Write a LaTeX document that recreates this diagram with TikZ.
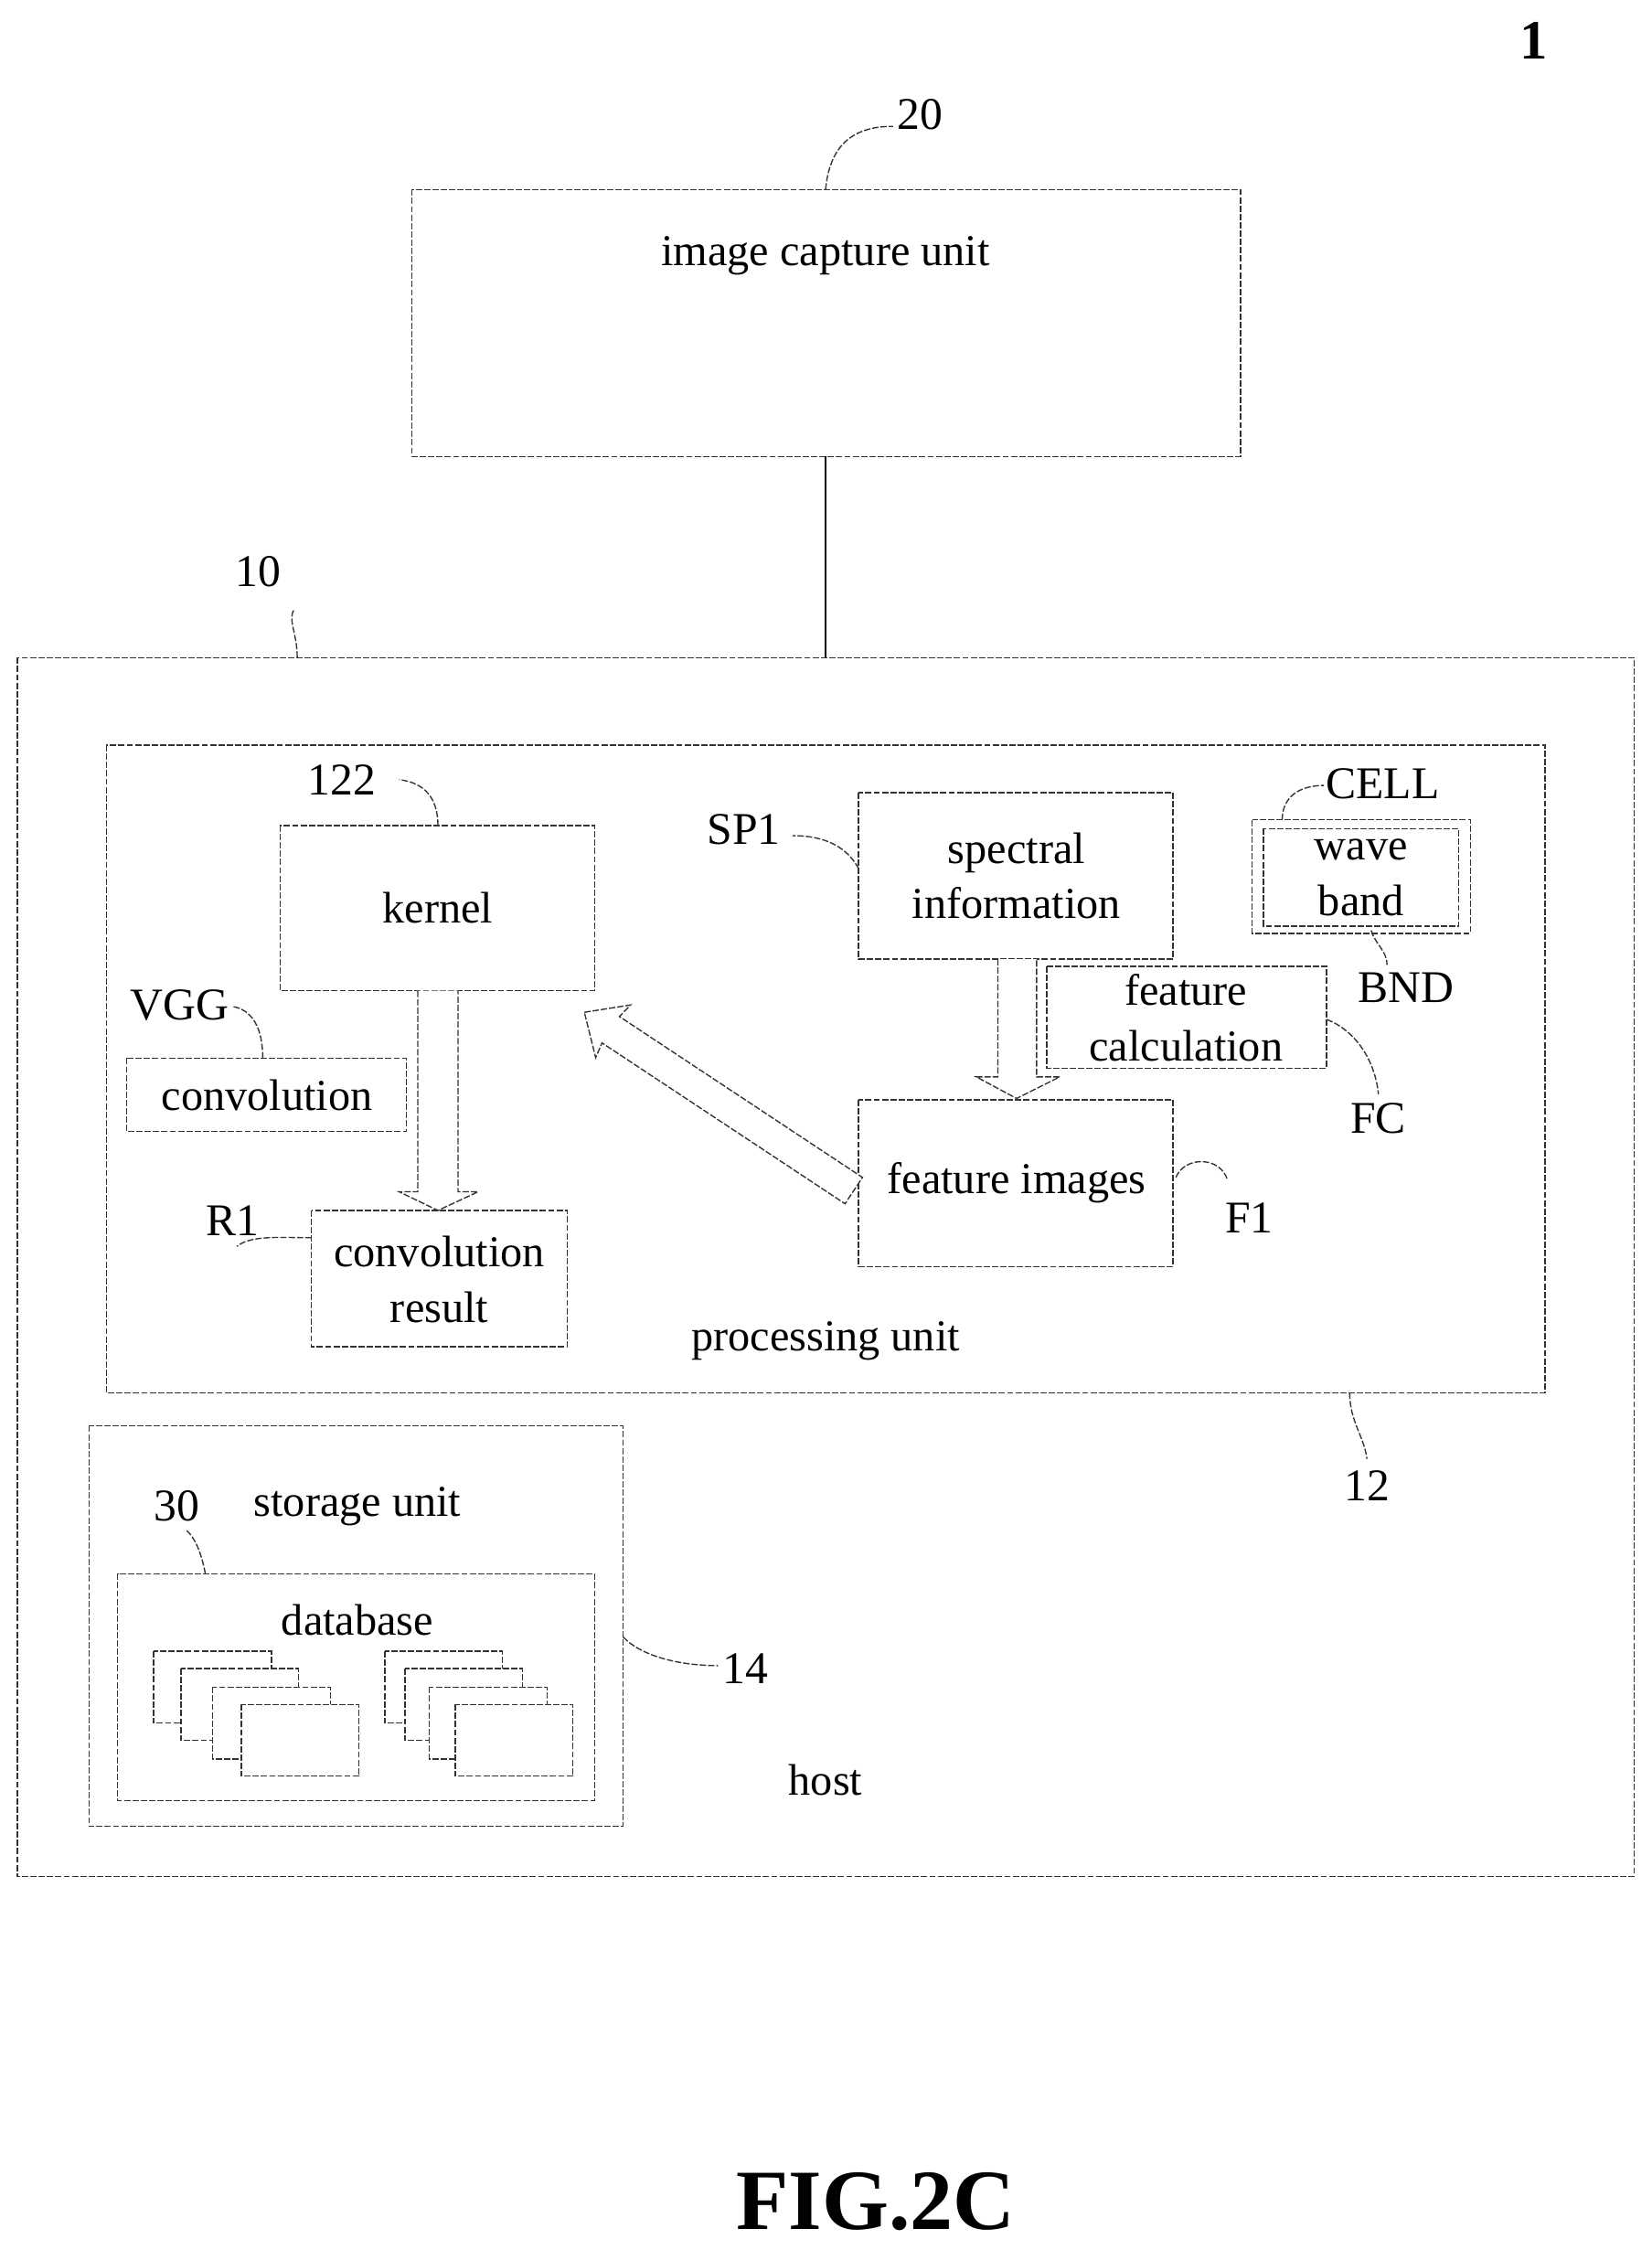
\documentclass[tikz,border=0pt]{standalone}
\usepackage{fontspec}
\setmainfont{Liberation Serif}
\begin{document}
\begin{tikzpicture}[x=0.02cm,y=-0.02cm,
 bx/.style={draw=black!80,line width=0.5pt,dash pattern=on 2.5pt off 0.8pt},
 ld/.style={draw=black!80,line width=0.5pt,dash pattern=on 2.5pt off 0.8pt},
 tx/.style={font=\fontsize{17.5}{20}\selectfont,align=center,inner sep=0pt},
 lb/.style={font=\fontsize{18}{20}\selectfont,inner sep=0pt},
 harrow/.style={bx,fill=white}]
\useasboundingbox (0,0) rectangle (1150,1567);
\node[font=\bfseries\fontsize{22}{24}\selectfont] (one) at (1068,28) {1};
% image capture unit
\draw[bx] (287,132) rectangle (864,318);
\coordinate (icT) at (575,132); \coordinate (icB) at (575,318);
\node[tx] (ic) at (575,178) {image capture unit};
\node[lb] (l20) at (641,80) {20};
\draw[ld] (icT) .. controls (578,100) and (595,88) .. (622,88);
% host
\draw[bx] (12,458) rectangle (1138,1307);
\coordinate (hT) at (575,458);
\draw[line width=0.6pt] (icB) -- (hT);
\node[lb] (l10) at (180,398) {10};
\draw[ld] (207,458) .. controls (207,440) and (200,432) .. (205,424);
\node[tx] (host) at (575,1240) {host};
% processing unit
\draw[bx] (74,519) rectangle (1076,970);
\node[tx] (pu) at (575,934) {processing unit};
\node[lb] (l12) at (952,1035) {12};
\draw[ld] (940,970) .. controls (940,990) and (950,1000) .. (952,1016);
% kernel
\draw[bx] (195,575) rectangle (414,690);
\node[tx] (kern) at (305,632) {kernel};
\node[lb] (l122) at (238,543) {122};
\draw[ld] (305,575) .. controls (305,555) and (295,545) .. (278,543);
% convolution
\draw[bx] (88,737) rectangle (283,788);
\node[tx] (conv) at (186,763) {convolution};
\node[lb] (lvgg) at (125,700) {VGG};
\draw[ld] (183,737) .. controls (183,715) and (175,703) .. (162,701);
% convolution result
\draw[bx] (217,843) rectangle (395,938);
\node[tx] (cr) at (306,891) {convolution\\[2pt]result};
\node[lb] (lr1) at (162,850) {R1};
\draw[ld] (217,862) .. controls (195,862) and (175,860) .. (165,868);
% down arrow kernel -> result
\draw[harrow] (291,690) -- (291,830) -- (278,830) -- (305,843) -- (333,830) -- (319,830) -- (319,690);
% spectral information
\draw[bx] (598,552) rectangle (817,668);
\node[tx] (sp) at (708,610) {spectral\\[2pt]information};
\node[lb] (lsp1) at (518,578) {SP1};
\draw[ld] (598,605) .. controls (590,590) and (575,582) .. (552,582);
% wave band
\draw[bx] (872,571) rectangle (1024,650);
\draw[bx] (880,577) rectangle (1016,645);
\node[tx] (wb) at (948,611) {wave\\[2pt]band};
\node[lb] (lcell) at (963,546) {CELL};
\draw[ld] (893,571) .. controls (893,555) and (905,547) .. (922,547);
\node[lb] (lbnd) at (979,688) {BND};
\draw[ld] (955,648) .. controls (958,658) and (966,662) .. (966,672);
% arrow spectral -> feature images
\draw[harrow] (695,668) -- (695,750) -- (680,750) -- (708,765) -- (738,750) -- (722,750) -- (722,668);
% feature calculation
\draw[bx,fill=white] (729,673) rectangle (924,744);
\node[tx] (fc) at (826,709) {feature\\[2pt]calculation};
\node[lb] (lfc) at (960,779) {FC};
\draw[ld] (924,710) .. controls (945,718) and (958,740) .. (960,762);
% feature images
\draw[bx] (598,766) rectangle (817,882);
\node[tx] (fi) at (708,824) {feature images};
\node[lb] (lf1) at (870,848) {F1};
\draw[ld] (819,820) .. controls (825,805) and (850,805) .. (855,822);
% diagonal hollow arrow feature images -> kernel
\begin{scope}[shift={(407,705)},rotate=-33.5]
 \draw[harrow] (0,0) -- (24,-22) -- (22,-11) -- (225,-11) -- (225,11) -- (22,11) -- (24,22) -- cycle;
\end{scope}
% storage unit
\draw[bx] (62,993) rectangle (434,1272);
\node[tx] (su) at (249,1049) {storage unit};
\node[lb] (l30) at (123,1049) {30};
\draw[ld] (143,1096) .. controls (141,1085) and (137,1072) .. (130,1066);
\node[lb] (l14) at (519,1162) {14};
\draw[ld] (434,1140) .. controls (445,1152) and (470,1160) .. (500,1160);
\draw[bx] (82,1096) rectangle (414,1254);
\node[tx] (db) at (249,1128) {database};
\foreach \x/\y in {107/1150,126/1162,148/1175,168/1187}{\draw[bx,fill=white] (\x,\y) rectangle ++(82,50);}
\foreach \x/\y in {268/1150,282/1162,299/1175,317/1187}{\draw[bx,fill=white] (\x,\y) rectangle ++(82,50);}
\node[font=\bfseries\fontsize{34}{36}\selectfont] (fig) at (610,1533) {FIG.2C};
\end{tikzpicture}
\end{document}
